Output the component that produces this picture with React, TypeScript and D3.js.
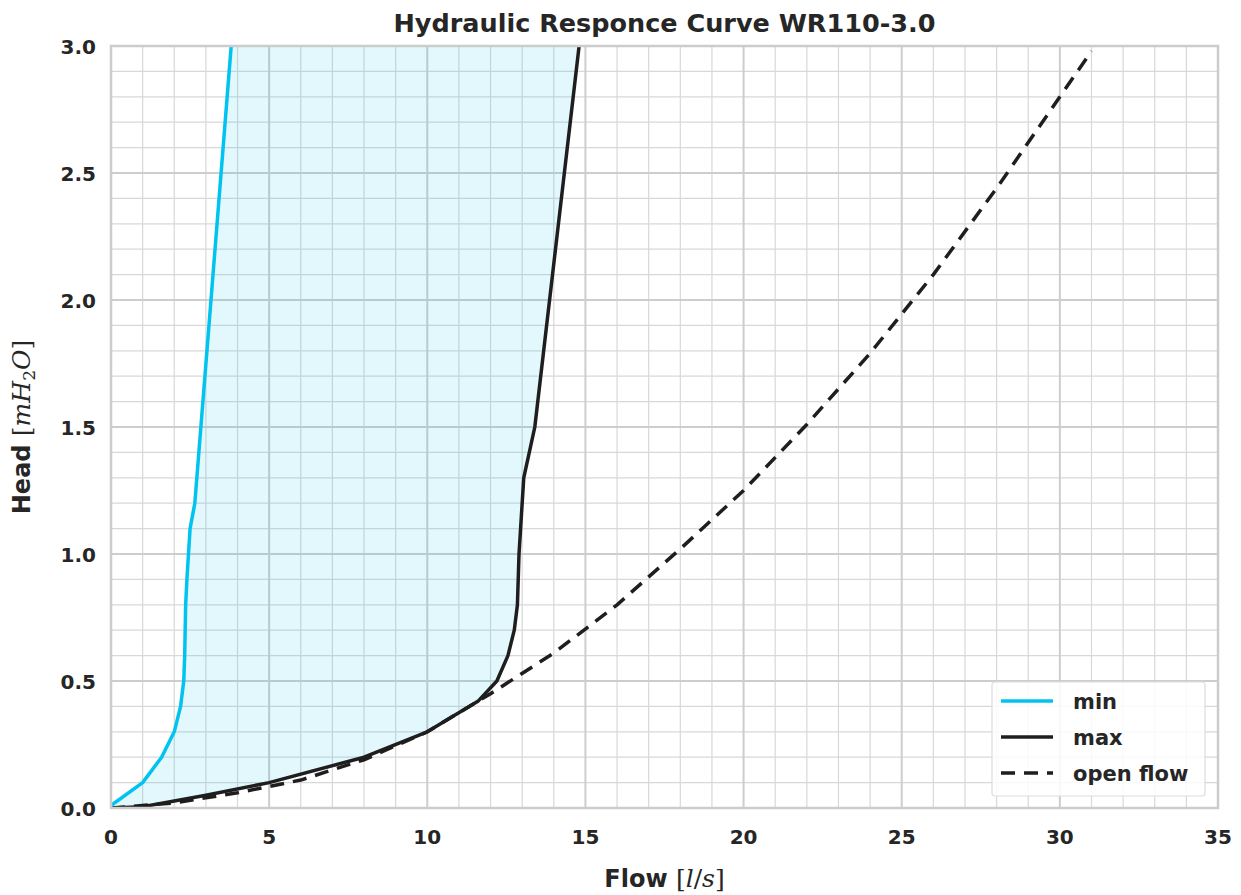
import * as d3 from 'd3';

const WIDTH = 1241;
const HEIGHT = 895;
const MARGIN = { top: 46, right: 23, bottom: 87, left: 111 };

// min setting: [flow l/s, head mH2O]
const minFlow = [0, 1, 1.6, 2.0, 2.2, 2.3, 2.33, 2.36, 2.4, 2.5, 2.65, 3.8];
const minHead = [0.01, 0.1, 0.2, 0.3, 0.4, 0.5, 0.6, 0.8, 0.9, 1.1, 1.2, 3.0];

// max setting
const maxFlow = [0, 1, 3, 5, 8, 10, 11.6, 12.2, 12.55, 12.75, 12.85, 12.9, 12.95, 13.05, 13.4, 14.8];
const maxHead = [0, 0.005, 0.05, 0.1, 0.2, 0.3, 0.42, 0.5, 0.6, 0.7, 0.8, 1.0, 1.1, 1.3, 1.5, 3.0];

// open flow
const openFlow = [0, 2, 4, 6, 8, 10, 12, 14, 16, 18, 20, 22, 24, 26, 28, 30, 31];
const openHead = [0, 0.02, 0.06, 0.11, 0.19, 0.3, 0.45, 0.61, 0.8, 1.02, 1.25, 1.51, 1.79, 2.1, 2.44, 2.8, 2.98];

const xTicks = [0, 5, 10, 15, 20, 25, 30, 35];
const yTicks = [0, 0.5, 1.0, 1.5, 2.0, 2.5, 3.0];

const legendItems = ['min', 'max', 'open flow'];

const CYAN = '#00c3ef';
const DARK = '#1e1e1e';
const TEXT = '#262626';
const FONT = '"DejaVu Sans", sans-serif';
const MATH = "'DejaVu Serif', serif";

export default function App() {
  const w = WIDTH - MARGIN.left - MARGIN.right;
  const h = HEIGHT - MARGIN.top - MARGIN.bottom;

  const x = d3.scaleLinear().domain([0, 35]).range([0, w]);
  const y = d3.scaleLinear().domain([0, 3]).range([h, 0]);

  const line = d3
    .line<[number, number]>()
    .x((d) => x(d[0]))
    .y((d) => y(d[1]));

  const minPts: [number, number][] = minFlow.map((f, i) => [f, minHead[i]]);
  const maxPts: [number, number][] = maxFlow.map((f, i) => [f, maxHead[i]]);
  const openPts: [number, number][] = openFlow.map((f, i) => [f, openHead[i]]);

  // band between min and max
  const band = line([...minPts, ...maxPts.slice().reverse()]) + 'Z';

  const minorX = d3.range(0, 36, 1).filter((v) => v % 5 !== 0);
  const minorY = d3.range(0, 31, 1).map((v) => v / 10).filter((v, i) => i % 5 !== 0);

  return (
    <svg
      width={WIDTH}
      height={HEIGHT}
      style={{ position: 'absolute', left: 0, top: 0, background: '#fff' }}
      fontFamily={FONT}
    >
      <text
        x={MARGIN.left + w / 2}
        y={32}
        textAnchor="middle"
        fontSize={25.5}
        fontWeight={700}
        fill={TEXT}
      >
        Hydraulic Responce Curve WR110-3.0
      </text>
      <defs>
        <clipPath id="plot-clip">
          <rect x={0} y={0} width={w} height={h} />
        </clipPath>
      </defs>
      <g transform={`translate(${MARGIN.left},${MARGIN.top})`}>
        {/* minor grid */}
        {minorX.map((v) => (
          <line key={'mx' + v} x1={x(v)} x2={x(v)} y1={0} y2={h} stroke="#d8d8d8" strokeWidth={1.2} />
        ))}
        {minorY.map((v) => (
          <line key={'my' + v} x1={0} x2={w} y1={y(v)} y2={y(v)} stroke="#d8d8d8" strokeWidth={1.2} />
        ))}
        {/* major grid */}
        {xTicks.map((v) => (
          <line key={'Mx' + v} x1={x(v)} x2={x(v)} y1={0} y2={h} stroke="#cdcdcd" strokeWidth={2} />
        ))}
        {yTicks.map((v) => (
          <line key={'My' + v} x1={0} x2={w} y1={y(v)} y2={y(v)} stroke="#cdcdcd" strokeWidth={2} />
        ))}

        <g clipPath="url(#plot-clip)">
          <path d={band} fill={CYAN} fillOpacity={0.11} stroke="none" />
          <path
            d={line(openPts) ?? ''}
            fill="none"
            stroke={DARK}
            strokeWidth={3.5}
            strokeDasharray="14,9"
          />
          <path d={line(maxPts) ?? ''} fill="none" stroke={DARK} strokeWidth={3.5} strokeLinejoin="round" />
          <path d={line(minPts) ?? ''} fill="none" stroke={CYAN} strokeWidth={3.5} strokeLinejoin="round" />
        </g>

        <rect x={0} y={0} width={w} height={h} fill="none" stroke="#cccccc" strokeWidth={2.5} />

        {/* tick labels */}
        {xTicks.map((v) => (
          <text key={'tx' + v} x={x(v)} y={h + 36} textAnchor="middle" fontSize={20} fontWeight={700} fill={TEXT}>
            {v}
          </text>
        ))}
        {yTicks.map((v) => (
          <text key={'ty' + v} x={-15} y={y(v) + 7.5} textAnchor="end" fontSize={20} fontWeight={700} fill={TEXT}>
            {v.toFixed(1)}
          </text>
        ))}

        {/* axis titles */}
        <text x={w / 2} y={h + 79} textAnchor="middle" fontSize={24} fontWeight={700} fill={TEXT}>
          Flow{' '}
          <tspan fontFamily={MATH} fontWeight={400} fontSize={25}>
            [<tspan fontStyle="italic">l</tspan>/<tspan fontStyle="italic">s</tspan>]
          </tspan>
        </text>
        <text
          transform={`translate(${-81},${h / 2}) rotate(-90)`}
          textAnchor="middle"
          fontSize={24}
          fontWeight={700}
          fill={TEXT}
        >
          Head{' '}
          <tspan fontFamily={MATH} fontWeight={400} fontSize={25}>
            [<tspan fontStyle="italic">mH</tspan>
            <tspan fontSize={17} dy={5}>2</tspan>
            <tspan fontStyle="italic" dy={-5}>O</tspan>]
          </tspan>
        </text>

        {/* legend */}
        <g transform={`translate(${w - 226},${h - 126})`}>
          <rect x={0} y={0} width={213} height={114} rx={3} fill="#fff" fillOpacity={0.85} stroke="#dddddd" strokeWidth={1.2} />
          {legendItems.map((label, i) => (
            <g key={label} transform={`translate(0,${19 + i * 36})`}>
              <line
                x1={9}
                x2={61}
                y1={0}
                y2={0}
                stroke={i === 0 ? CYAN : DARK}
                strokeWidth={3.5}
                strokeDasharray={i === 2 ? '14,9' : undefined}
              />
              <text x={81} y={7.5} fontSize={21} fontWeight={700} fill={TEXT}>
                {label}
              </text>
            </g>
          ))}
        </g>
      </g>
    </svg>
  );
}
